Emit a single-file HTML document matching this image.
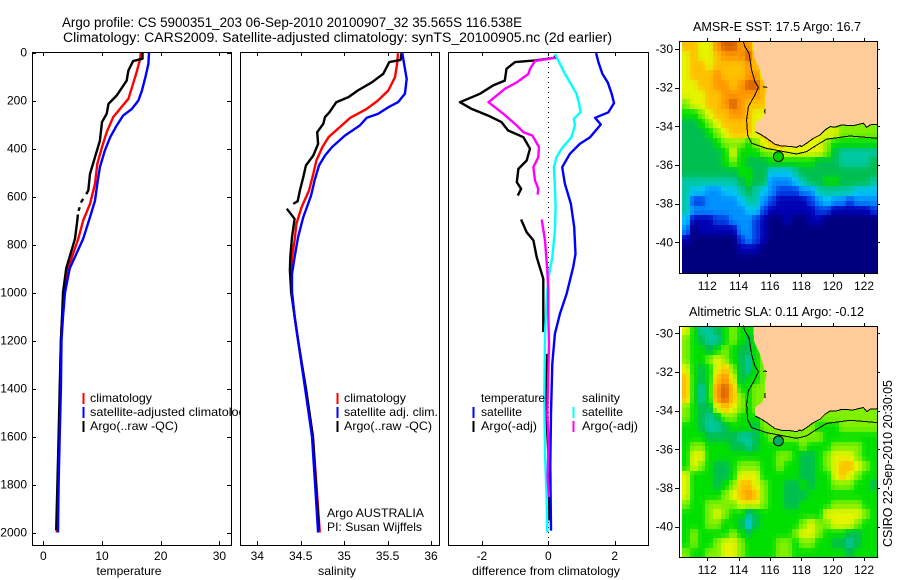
<!DOCTYPE html>
<html>
<head>
<meta charset="utf-8">
<title>Argo profile</title>
<style>
html,body{margin:0;padding:0;background:#fff;}
svg{display:block;font-family:"Liberation Sans",sans-serif;font-size:12px;fill:#000;}
</style>
</head>
<body>
<svg id="chart" xmlns="http://www.w3.org/2000/svg" width="900" height="580" viewBox="0 0 900 580">
  <rect x="0" y="0" width="900" height="580" fill="#fff"/>
</svg>
<script>
// ---------- Axis tick labels ----------
const depthTicks = [0,200,400,600,800,1000,1200,1400,1600,1800,2000];
const tempTicks = [0,10,20,30];
const salTicks = [34,34.5,35,35.5,36];
const diffTicks = [-2,0,2];
const lonTicks = [112,114,116,118,120,122];
const latTicks = [-30,-32,-34,-36,-38,-40];

// ---------- Temperature profile ----------
const tempClimDepth = [1,26,82,130,193,228,269,332,394,464,547,631,700,776,900,1000,1100,1200,1400,1600,1800,2000];
const tempClimValue = [16.6,16.5,15.9,15.3,14.5,13.3,11.9,10.8,10,9.2,8.8,7.95,6.8,5.96,4.2,3.5,3.2,3.0,2.85,2.7,2.5,2.3];
const tempSatDepth = [1,47,103,159,200,235,263,304,353,408,478,547,617,686,776,900,1000,1100,1200,1400,1600,1800,2000];
const tempSatValue = [18,17.9,17.4,16.8,16.2,15.1,13.6,12.5,11.4,10.5,9.65,9.2,8.8,7.95,6.8,4.5,3.7,3.35,3.1,3.0,2.8,2.6,2.5];
const tempArgoDepth = [1,26,36,75,117,179,214,255,290,367,436,506,575,590,596,610,625,632,645,660,668,675,700,776,900,1000,1100,1200,1400,1600,1800,1990];
const tempArgoValue = [16.9,16.9,15.3,14.5,14.2,12.5,11.1,10.8,10,9.65,8.8,7.95,7.67,7.3,null,6.8,6.4,null,6.2,6.0,null,5.9,5.8,5.4,3.9,3.35,3.2,3.0,2.8,2.6,2.4,2.2];

// ---------- Salinity profile ----------
const salClimDepth = [3,47,103,158,200,235,272,311,353,394,450,506,575,644,714,783,853,943,1000,1100,1200,1300,1400,1600,1800,2000];
const salClimValue = [35.62,35.61,35.585,35.51,35.39,35.26,35.07,34.95,34.82,34.75,34.68,34.645,34.595,34.51,34.45,34.43,34.4,34.39,34.4,34.43,34.47,34.51,34.56,34.64,34.68,34.72];
const salSatDepth = [3,47,110,172,207,228,256,272,304,346,394,429,471,533,596,686,769,853,922,1000,1100,1200,1300,1400,1600,1800,2000];
const salSatValue = [35.67,35.69,35.72,35.7,35.62,35.51,35.39,35.26,35.18,35.01,34.86,34.78,34.71,34.66,34.62,34.53,34.47,34.43,34.4,34.4,34.43,34.47,34.51,34.55,34.63,34.665,34.7];
const salArgoDepth = [3,31,40,89,124,158,186,207,249,269,297,332,381,429,471,519,575,619,631,634,637,640,651,693,769,853,908,1000,1100,1200,1400,1600,1800,1990];
const salArgoValue = [35.66,35.65,35.52,35.45,35.32,35.16,35.05,34.91,34.83,34.78,34.76,34.69,34.7,34.645,34.56,34.53,34.49,34.465,34.415,null,34.36,null,34.34,34.43,34.4,34.38,34.375,34.39,34.43,34.47,34.56,34.64,34.675,34.71];

// ---------- Difference from climatology ----------
const diffTempSatDepth = [3,40,89,124,172,211,249,272,300,353,381,422,478,547,631,728,839,894,950,1006,1089,1172,1297,1506,1714,1992];
const diffTempSatValue = [1.44,1.51,1.63,1.79,1.91,1.98,1.81,1.41,1.58,1.26,0.95,0.65,0.42,0.5,0.68,0.78,0.82,0.75,0.65,0.55,0.35,0.2,0.12,0.08,0.06,0.08];
const diffTempArgoDepth = [13,22,33,40,68,117,137,172,207,235,263,290,325,353,401,450,485,540,568,596,640,696,749,783,853,943,1061,1165,1210,1256,1533,1735,1950];
const diffTempArgoValue = [0.2,0.2,-0.4,-1.0,-1.26,-1.31,-1.66,-2.06,-2.66,-2.31,-1.81,-1.41,-1.21,-0.75,-0.55,-0.65,-0.9,-0.95,-0.82,-0.92,null,-0.82,-0.65,-0.45,-0.35,-0.15,-0.15,-0.15,null,-0.05,-0.05,0.03,0.03];
const diffSalSatDepth = [6,47,89,131,172,214,249,276,304,353,401,436,478,561,644,742,853,943,1033,1172,1436,1672,1853,1999];
const diffSalSatValue = [0.2,0.35,0.5,0.68,0.85,0.93,0.97,0.77,0.8,0.7,0.4,0.25,0.17,0.2,0.22,0.2,0.12,0,-0.05,-0.1,-0.12,-0.1,-0.05,-0.03];
const diffSalArgoDepth = [22,36,68,89,124,151,207,256,304,332,346,394,436,478,533,568,592,640,696,783,908,992,1089,1214,1506,1631,1769,1853];
const diffSalArgoValue = [0.2,-0.4,-0.55,-0.6,-0.95,-1.3,-1.8,-1.35,-0.95,-0.75,-0.48,-0.28,-0.3,-0.45,-0.4,-0.3,-0.32,null,-0.2,-0.1,-0.03,0,0,0.02,-0.03,0.01,-0.02,0.02];

// ---------- Map colour levels, 0 = coldest/lowest, 12 = warmest/highest ----------
const colourLevels = ['#00007f','#0000b4','#0040e6','#0090ff','#00c4f4','#00c8a0','#00bf50','#00e000','#7ff000','#e6f400','#ffc000','#ff9800','#d86000'];

// Rows run north to south from 29.6S; columns west to east from 110.38E; each cell is 0.5 degrees.
const sstLevels = [
[10,10,9,9,11,12,12,11,11,9,9,9,9,9,9,9,9,9,9,9,9,9,9,9,9],
[9,10,9,9,10,11,11,11,12,10,9,9,9,9,9,9,9,9,9,9,9,9,9,9,9],
[9,10,10,9,10,10,10,10,11,10,9,9,9,9,9,9,9,9,9,9,9,9,9,9,9],
[9,10,10,10,11,10,10,10,11,11,9,9,9,9,9,9,9,9,9,9,9,9,9,9,9],
[9,9,10,10,11,11,10,11,12,12,10,9,9,9,9,9,9,9,9,9,9,9,9,9,9],
[9,9,9,10,10,11,11,11,11,11,10,9,9,9,9,9,9,9,9,9,9,9,9,9,9],
[8,9,9,10,10,11,12,11,10,10,10,9,9,9,9,9,9,9,9,9,9,9,9,9,9],
[7,7,8,9,10,10,11,11,10,9,9,7,8,8,8,8,8,8,8,8,8,8,8,8,8],
[6,6,7,8,9,10,10,10,10,9,9,8,8,8,8,8,8,8,8,8,8,8,8,8,8],
[6,6,6,7,8,9,10,10,10,9,10,10,10,10,10,10,9,9,9,9,8,8,8,8,8],
[6,6,6,6,7,8,8,8,7,8,9,10,10,9,9,9,9,9,8,7,7,7,7,7,7],
[6,6,6,6,6,7,9,7,7,7,8,8,9,9,9,9,9,9,8,6,5,5,5,5,5],
[6,6,6,6,6,7,8,7,6,6,6,7,7,7,7,7,7,6,6,6,5,5,5,5,6],
[6,6,6,6,6,6,6,7,7,6,6,4,4,4,5,6,6,6,6,6,6,6,6,6,6],
[5,5,5,5,5,5,5,6,7,6,6,3,3,3,4,5,6,6,7,7,6,6,6,6,5],
[5,4,4,3,3,4,4,5,6,5,4,3,2,2,2,3,3,5,5,5,5,5,4,4,4],
[5,2,2,3,3,3,3,4,5,5,3,2,1,1,1,1,2,3,4,3,3,2,3,3,3],
[5,3,3,3,3,3,3,3,4,4,2,1,1,1,1,1,1,2,2,1,1,1,1,1,2],
[4,1,1,1,2,2,3,3,3,2,1,0,0,1,0,0,1,1,0,0,0,0,0,0,0],
[3,0,1,1,1,1,1,3,3,2,1,0,0,0,0,0,0,0,0,0,0,0,0,0,0],
[1,0,0,0,0,0,0,2,3,2,1,0,0,0,0,0,0,0,0,0,0,0,0,0,0],
[0,0,0,0,0,0,0,1,1,1,0,0,0,0,0,0,0,0,0,0,0,0,0,0,0],
[0,0,0,0,0,0,0,0,0,0,0,0,0,0,0,0,0,0,0,0,0,0,0,0,0],
[0,0,0,0,0,0,0,0,0,0,0,0,0,0,0,0,0,0,0,0,0,0,0,0,0]
];
const slaLevels = [
[9,7,5,5,6,7,8,7,7,7,7,8,8,8,8,8,8,8,8,8,8,8,8,8,8],
[8,7,6,5,5,7,8,7,6,7,8,8,8,8,8,8,8,8,8,8,8,8,8,8,8],
[8,7,7,6,7,8,7,6,6,7,8,8,8,8,8,8,8,8,8,8,8,8,8,8,8],
[8,7,7,8,9,8,7,6,5,7,8,8,8,8,8,8,8,8,8,8,8,8,8,8,8],
[9,7,6,7,9,10,8,6,5,7,8,8,8,8,8,8,8,8,8,8,8,8,8,8,8],
[10,7,6,7,10,11,9,6,7,7,8,8,8,8,8,8,8,8,8,8,8,8,8,8,8],
[10,7,5,7,11,12,10,7,7,8,8,8,8,8,8,8,8,8,8,8,8,8,8,8,8],
[10,7,5,7,11,12,10,8,7,8,8,8,8,8,8,8,8,8,8,8,8,8,8,8,8],
[8,7,6,6,9,10,9,8,7,8,8,8,8,8,8,8,8,8,8,8,8,8,8,8,8],
[8,7,6,5,6,8,8,7,7,7,8,8,8,8,8,8,8,8,8,8,8,8,8,8,8],
[7,7,6,5,5,6,7,7,7,6,8,8,8,8,8,8,8,7,7,7,8,8,8,8,8],
[7,7,7,6,6,6,6,5,5,6,7,8,8,8,8,8,8,8,7,7,7,7,7,7,7],
[7,8,8,7,7,7,6,6,5,6,7,7,7,7,7,8,7,7,7,8,8,8,8,7,7],
[7,9,9,7,7,7,7,7,7,7,7,7,8,8,7,6,6,7,8,9,9,9,8,7,7],
[7,9,8,7,6,6,7,8,8,8,7,7,8,7,7,6,6,7,8,9,10,10,9,8,7],
[9,7,7,7,6,6,7,9,9,9,7,7,7,7,7,6,6,7,7,9,10,9,8,7,7],
[9,7,7,7,6,7,8,10,10,9,8,7,7,6,6,7,6,7,7,8,8,8,7,7,6],
[9,7,7,7,7,8,9,10,11,10,8,7,7,6,6,6,7,7,7,7,7,7,7,7,7],
[8,7,7,8,8,8,8,9,9,9,8,7,7,6,6,7,7,7,7,8,8,8,8,7,7],
[7,7,7,8,9,8,7,7,5,6,7,7,7,7,7,7,7,7,9,9,9,9,9,8,7],
[7,7,7,8,8,7,7,6,4,6,7,7,7,7,7,8,9,8,8,9,9,9,8,7,7],
[7,8,7,7,7,7,8,7,6,7,7,7,7,7,8,9,9,8,7,7,7,6,6,7,7],
[7,8,7,7,8,9,9,8,7,7,7,7,8,8,7,8,8,7,7,6,6,5,6,7,7],
[8,7,7,8,8,9,9,8,7,7,7,7,8,8,7,7,7,7,7,7,7,6,7,7,7]
];

// ---------- Geography (degrees) ----------
const westCoastLon = [114.94,114.98,115.36,115.68,115.79,115.68,115.68,115.47,115.04];
const westCoastLat = [-29.6,-30.4,-31.09,-31.95,-32.12,-32.55,-33.24,-33.59,-33.84];
const southCoastLon = [115.04,115.06,115.47,115.79,116.32,116.74,117.3,117.7,117.91,118.0,118.34,118.77,119.19,119.51,119.83,120.2,120.57,121.3,121.96,122.17,122.4,122.85];
const southCoastLat = [-33.84,-34.28,-34.45,-34.62,-34.93,-35.02,-35.04,-35.09,-35.0,-35.05,-34.88,-34.62,-34.45,-34.19,-34.02,-34.03,-33.93,-33.97,-33.84,-34.05,-33.92,-33.9];
const perthReefLon = [115.55,115.68,115.82];
const perthReefLat = [-31.98,-31.95,-31.99];
const capeReefLon = [115.68,115.66,115.7];
const capeReefLat = [-33.1,-33.24,-33.34];
const isobathLon = [114.3,114.4,114.66,114.83,115.04,115.26,115.04,114.62,114.51,114.57,114.83,115.79,117.7,118.34,118.98,119.62,121.11,122.85];
const isobathLat = [-29.6,-29.88,-30.22,-31.09,-31.69,-31.98,-32.38,-32.98,-33.67,-34.45,-34.88,-35.14,-35.43,-35.31,-34.97,-34.66,-34.5,-34.62];
const floatLon = 116.538;
const floatLat = -35.565;

// ---------- Drawing ----------
const svg = document.getElementById('chart');
const NS = 'http://www.w3.org/2000/svg';
function make(parent, tag, attrs, text) {
  const el = document.createElementNS(NS, tag);
  for (const k in attrs) el.setAttribute(k, attrs[k]);
  if (text !== undefined) el.textContent = text;
  parent.appendChild(el);
  return el;
}
function label(x, y, str, name, anchor, len, size) {
  const attrs = {x: x, y: y};
  if (anchor) attrs['text-anchor'] = anchor;
  if (len) { attrs.textLength = len; attrs.lengthAdjust = 'spacingAndGlyphs'; }
  if (size) attrs['font-size'] = size;
  const el = make(svg, 'text', attrs, str);
  
  
  return el;
}
function seg(x1, y1, x2, y2, name, colour, width) {
  const el = make(svg, 'line', {x1: x1, y1: y1, x2: x2, y2: y2, stroke: colour || '#000', 'stroke-width': width || 1, 'shape-rendering': 'crispEdges'});
  
  
  return el;
}
const plotTop = 52, plotBottom = 545;
const depthY = d => 52.5 + d * 0.24;

function frame(x0, x1, y0, y1, name) {
  const el = make(svg, 'rect', {x: x0 + 0.5, y: y0 + 0.5, width: x1 - x0, height: y1 - y0, fill: 'none', stroke: '#000', 'stroke-width': 1, 'shape-rendering': 'crispEdges'});
  
  
}
function panelBackground(x0, x1, name) {
  const el = make(svg, 'rect', {x: x0, y: plotTop, width: x1 - x0, height: plotBottom - plotTop, fill: '#fff'});
  
  
}
function drawSeries(depths, values, xFn, colour, name) {
  let pts = [];
  const flush = () => {
    if (pts.length > 1) {
      const el = make(svg, 'polyline', {points: pts.join(' '), fill: 'none', stroke: colour, 'stroke-width': 2.4, 'stroke-linejoin': 'round'});
      
      
    }
    pts = [];
  };
  depths.forEach((d, i) => {
    if (values[i] === null) { flush(); return; }
    pts.push(xFn(values[i]).toFixed(1) + ',' + depthY(d).toFixed(1));
  });
  flush();
}
function xTicks(ticks, xFn, y0, y1, labelName, tickName) {
  ticks.forEach(t => {
    const x = Math.round(xFn(t)) + 0.5;
    seg(x, y0, x, y0 + 4, tickName, '#000', 1);
    seg(x, y1 - 4, x, y1, tickName, '#000', 1);
    label(xFn(t), 560, String(t), labelName, 'middle');
  });
}
function legend(markerX, textX, entries, prefix) {
  entries.forEach(e => {
    if (e.colour) seg(markerX + 0.5, e.y - 9, markerX + 0.5, e.y + 2, prefix + '-marker', e.colour, 2);
    label(textX, e.y, e.text, prefix + '-entry', null, e.len);
  });
}

// Titles
label(62, 27, 'Argo profile: CS 5900351_203 06-Sep-2010 20100907_32 35.565S 116.538E', 'figure-title-line-1', null, 460, 13.4);
label(63, 42, 'Climatology: CARS2009. Satellite-adjusted climatology: synTS_20100905.nc (2d earlier)', 'figure-title-line-2', null, 549, 13.4);

// Temperature panel
const tempX = v => 43.3 + v * 5.87;
panelBackground(32, 231, 'temperature-plot-area');
drawSeries(tempClimDepth, tempClimValue, tempX, '#ff0000', 'temperature-climatology-line');
drawSeries(tempArgoDepth, tempArgoValue, tempX, '#000000', 'temperature-argo-line');
drawSeries(tempSatDepth, tempSatValue, tempX, '#0000ff', 'temperature-satellite-line');
legend(83, 90, [
  {y: 402, text: 'climatology', colour: '#ff0000', len: 62},
  {y: 416, text: 'satellite-adjusted climatology', colour: '#0000ff', len: 162},
  {y: 430, text: 'Argo(..raw -QC)', colour: '#000000', len: 88}
], 'temperature-legend');
depthTicks.forEach(d => {
  const y = Math.round(depthY(d)) + 0.5;
  seg(32, y, 36, y, 'depth-tick', '#000', 1);
  seg(227, y, 231, y, 'depth-tick', '#000', 1);
  label(27, depthY(d) + 4, String(d), 'depth-tick-label', 'end');
});
xTicks(tempTicks, tempX, plotTop, plotBottom, 'temperature-tick-label', 'temperature-tick');
frame(32, 231, plotTop, plotBottom, 'temperature-axes-frame');
label(129, 575, 'temperature', 'temperature-axis-title', 'middle', 65);

// Salinity panel
const salX = v => 257.3 + (v - 34) * 86.85;
panelBackground(240, 439, 'salinity-plot-area');
drawSeries(salClimDepth, salClimValue, salX, '#ff0000', 'salinity-climatology-line');
drawSeries(salArgoDepth, salArgoValue, salX, '#000000', 'salinity-argo-line');
drawSeries(salSatDepth, salSatValue, salX, '#0000ff', 'salinity-satellite-line');
legend(337, 344, [
  {y: 402, text: 'climatology', colour: '#ff0000', len: 62},
  {y: 416, text: 'satellite adj. clim.', colour: '#0000ff', len: 94},
  {y: 430, text: 'Argo(..raw -QC)', colour: '#000000', len: 88}
], 'salinity-legend');
label(327, 517, 'Argo AUSTRALIA', 'float-country-note', null, 97);
label(327, 531, 'PI: Susan Wijffels', 'float-pi-note', null, 95);
xTicks(salTicks, salX, plotTop, plotBottom, 'salinity-tick-label', 'salinity-tick');
frame(240, 439, plotTop, plotBottom, 'salinity-axes-frame');
label(337, 575, 'salinity', 'salinity-axis-title', 'middle', 38);

// Difference panel
const diffX = v => 548.3 + v * 33.2;
panelBackground(448, 648, 'difference-plot-area');
const zeroLine = make(svg, 'line', {x1: 548.5, y1: plotTop, x2: 548.5, y2: plotBottom, stroke: '#000', 'stroke-width': 1, 'stroke-dasharray': '1 4', 'shape-rendering': 'crispEdges'});


drawSeries(diffTempArgoDepth, diffTempArgoValue, diffX, '#000000', 'difference-temperature-argo-line');
drawSeries(diffTempSatDepth, diffTempSatValue, diffX, '#0000ff', 'difference-temperature-satellite-line');
drawSeries(diffSalSatDepth, diffSalSatValue, diffX, '#00ffff', 'difference-salinity-satellite-line');
drawSeries(diffSalArgoDepth, diffSalArgoValue, diffX, '#ff00ff', 'difference-salinity-argo-line');
legend(473, 481, [
  {y: 402, text: 'temperature', len: 64},
  {y: 416, text: 'satellite', colour: '#0000ff', len: 41},
  {y: 430, text: 'Argo(-adj)', colour: '#000000', len: 56}
], 'difference-temperature-legend');
legend(573, 582, [
  {y: 402, text: 'salinity', len: 38},
  {y: 416, text: 'satellite', colour: '#00ffff', len: 41},
  {y: 430, text: 'Argo(-adj)', colour: '#ff00ff', len: 56}
], 'difference-salinity-legend');
xTicks(diffTicks, diffX, plotTop, plotBottom, 'difference-tick-label', 'difference-tick');
frame(448, 648, plotTop, plotBottom, 'difference-axes-frame');
label(546, 575, 'difference from climatology', 'difference-axis-title', 'middle', 148);

// Colour of a fractional level on the palette
function hexToRgb(h) {
  return [parseInt(h.slice(1, 3), 16), parseInt(h.slice(3, 5), 16), parseInt(h.slice(5, 7), 16)];
}
function levelColour(lv) {
  const lo = Math.max(0, Math.min(colourLevels.length - 1, Math.floor(lv)));
  const hi = Math.min(colourLevels.length - 1, lo + 1);
  const f = Math.max(0, Math.min(1, lv - lo));
  const a = hexToRgb(colourLevels[lo]), b = hexToRgb(colourLevels[hi]);
  return 'rgb(' + a.map((v, i) => Math.round(v + (b[i] - v) * f)).join(',') + ')';
}
function sampleLevels(levels, rr, cc) {
  const nr = levels.length, nc = levels[0].length;
  const r0 = Math.max(0, Math.floor(rr)), r1 = Math.min(nr - 1, Math.floor(rr) + 1);
  const c0 = Math.max(0, Math.floor(cc)), c1 = Math.min(nc - 1, Math.floor(cc) + 1);
  const fr = Math.max(0, rr - Math.floor(rr)), fc = Math.max(0, cc - Math.floor(cc));
  const top = levels[r0][c0] * (1 - fc) + levels[r0][c1] * fc;
  const bot = levels[r1][c0] * (1 - fc) + levels[r1][c1] * fc;
  return top * (1 - fr) + bot * fr;
}

// Maps
function drawMap(levels, lat30Y, top, bottom, prefix, floatColour) {
  const lonX = lon => 707.3 + (lon - 112) * 15.67;
  const latY = lat => lat30Y + (-30 - lat) * 19.33;
  const cellLon = 0.5, cellLat = 0.5, lon0 = 110.38, lat0 = -29.6, sub = 2, blend = 0.7;
  levels.forEach((row, r) => {
    row.forEach((lv, c) => {
      for (let i = 0; i < sub; i++) {
        for (let j = 0; j < sub; j++) {
          const x0 = Math.round(lonX(lon0 + (c + j / sub) * cellLon));
          const x1 = Math.min(877, Math.round(lonX(lon0 + (c + (j + 1) / sub) * cellLon)));
          const y0 = Math.round(latY(lat0 - (r + i / sub) * cellLat));
          const y1 = Math.min(bottom, Math.round(latY(lat0 - (r + (i + 1) / sub) * cellLat)));
          const smooth = sampleLevels(levels, r + ((i + 0.5) / sub - 0.5) * blend, c + ((j + 0.5) / sub - 0.5) * blend);
          const cell = make(svg, 'rect', {x: x0, y: y0, width: x1 - x0, height: y1 - y0, fill: levelColour(smooth)});
          
          
        }
      }
    });
  });
  const toPts = (lons, lats) => lons.map((lon, i) => lonX(lon).toFixed(1) + ',' + latY(lats[i]).toFixed(1));
  const landPts = toPts(westCoastLon, westCoastLat).concat(toPts(southCoastLon, southCoastLat));
  landPts.push(lonX(122.88).toFixed(1) + ',' + latY(-33.9).toFixed(1));
  landPts.push(lonX(122.88).toFixed(1) + ',' + top);
  const land = make(svg, 'polygon', {points: landPts.join(' '), fill: '#ffcc99', stroke: 'none', 'shape-rendering': 'crispEdges'});
  
  
  const coast = make(svg, 'polyline', {points: toPts(southCoastLon, southCoastLat).slice(1).join(' '), fill: 'none', stroke: '#000', 'stroke-width': 1, 'shape-rendering': 'crispEdges'});
  
  
  const reefA = make(svg, 'polyline', {points: toPts(perthReefLon, perthReefLat).join(' '), fill: 'none', stroke: '#000', 'stroke-width': 1, 'shape-rendering': 'crispEdges'});
  
  
  const reefB = make(svg, 'polyline', {points: toPts(capeReefLon, capeReefLat).join(' '), fill: 'none', stroke: '#000', 'stroke-width': 1, 'shape-rendering': 'crispEdges'});
  
  
  const iso = make(svg, 'polyline', {points: toPts(isobathLon, isobathLat).join(' '), fill: 'none', stroke: '#000', 'stroke-width': 1, 'shape-rendering': 'crispEdges'});
  
  
  const dot = make(svg, 'circle', {cx: lonX(floatLon), cy: latY(floatLat), r: 5, fill: floatColour, stroke: '#000', 'stroke-width': 1});
  
  
  frame(679, 877, top, bottom, prefix + '-axes-frame');
  lonTicks.forEach(t => {
    const x = Math.round(lonX(t)) + 0.5;
    seg(x, top - 3, x, top, prefix + '-longitude-tick', '#000', 1);
    seg(x, bottom, x, bottom + 4, prefix + '-longitude-tick', '#000', 1);
    label(lonX(t), bottom + 17, String(t), prefix + '-longitude-label', 'middle');
  });
  latTicks.forEach(t => {
    const y = Math.round(latY(t)) + 0.5;
    seg(675, y, 679, y, prefix + '-latitude-tick', '#000', 1);
    seg(877, y, 880, y, prefix + '-latitude-tick', '#000', 1);
    label(673, latY(t) + 4, String(t), prefix + '-latitude-label', 'end');
  });
}
drawMap(sstLevels, 49, 41, 273, 'sst-map', '#00d000');
drawMap(slaLevels, 333.3, 326, 557, 'sla-map', '#00b060');
label(693, 31, 'AMSR-E SST: 17.5 Argo: 16.7', 'sst-map-title', null, 168, 12.6);
label(689, 316, 'Altimetric SLA: 0.11 Argo: -0.12', 'sla-map-title', null, 175, 12.6);
const stamp = make(svg, 'text', {x: 0, y: 0, transform: 'translate(892 547) rotate(-90)', textLength: 167, lengthAdjust: 'spacingAndGlyphs', 'font-size': 12.6}, 'CSIRO 22-Sep-2010 20:30:05');


</script>
</body>
</html>
